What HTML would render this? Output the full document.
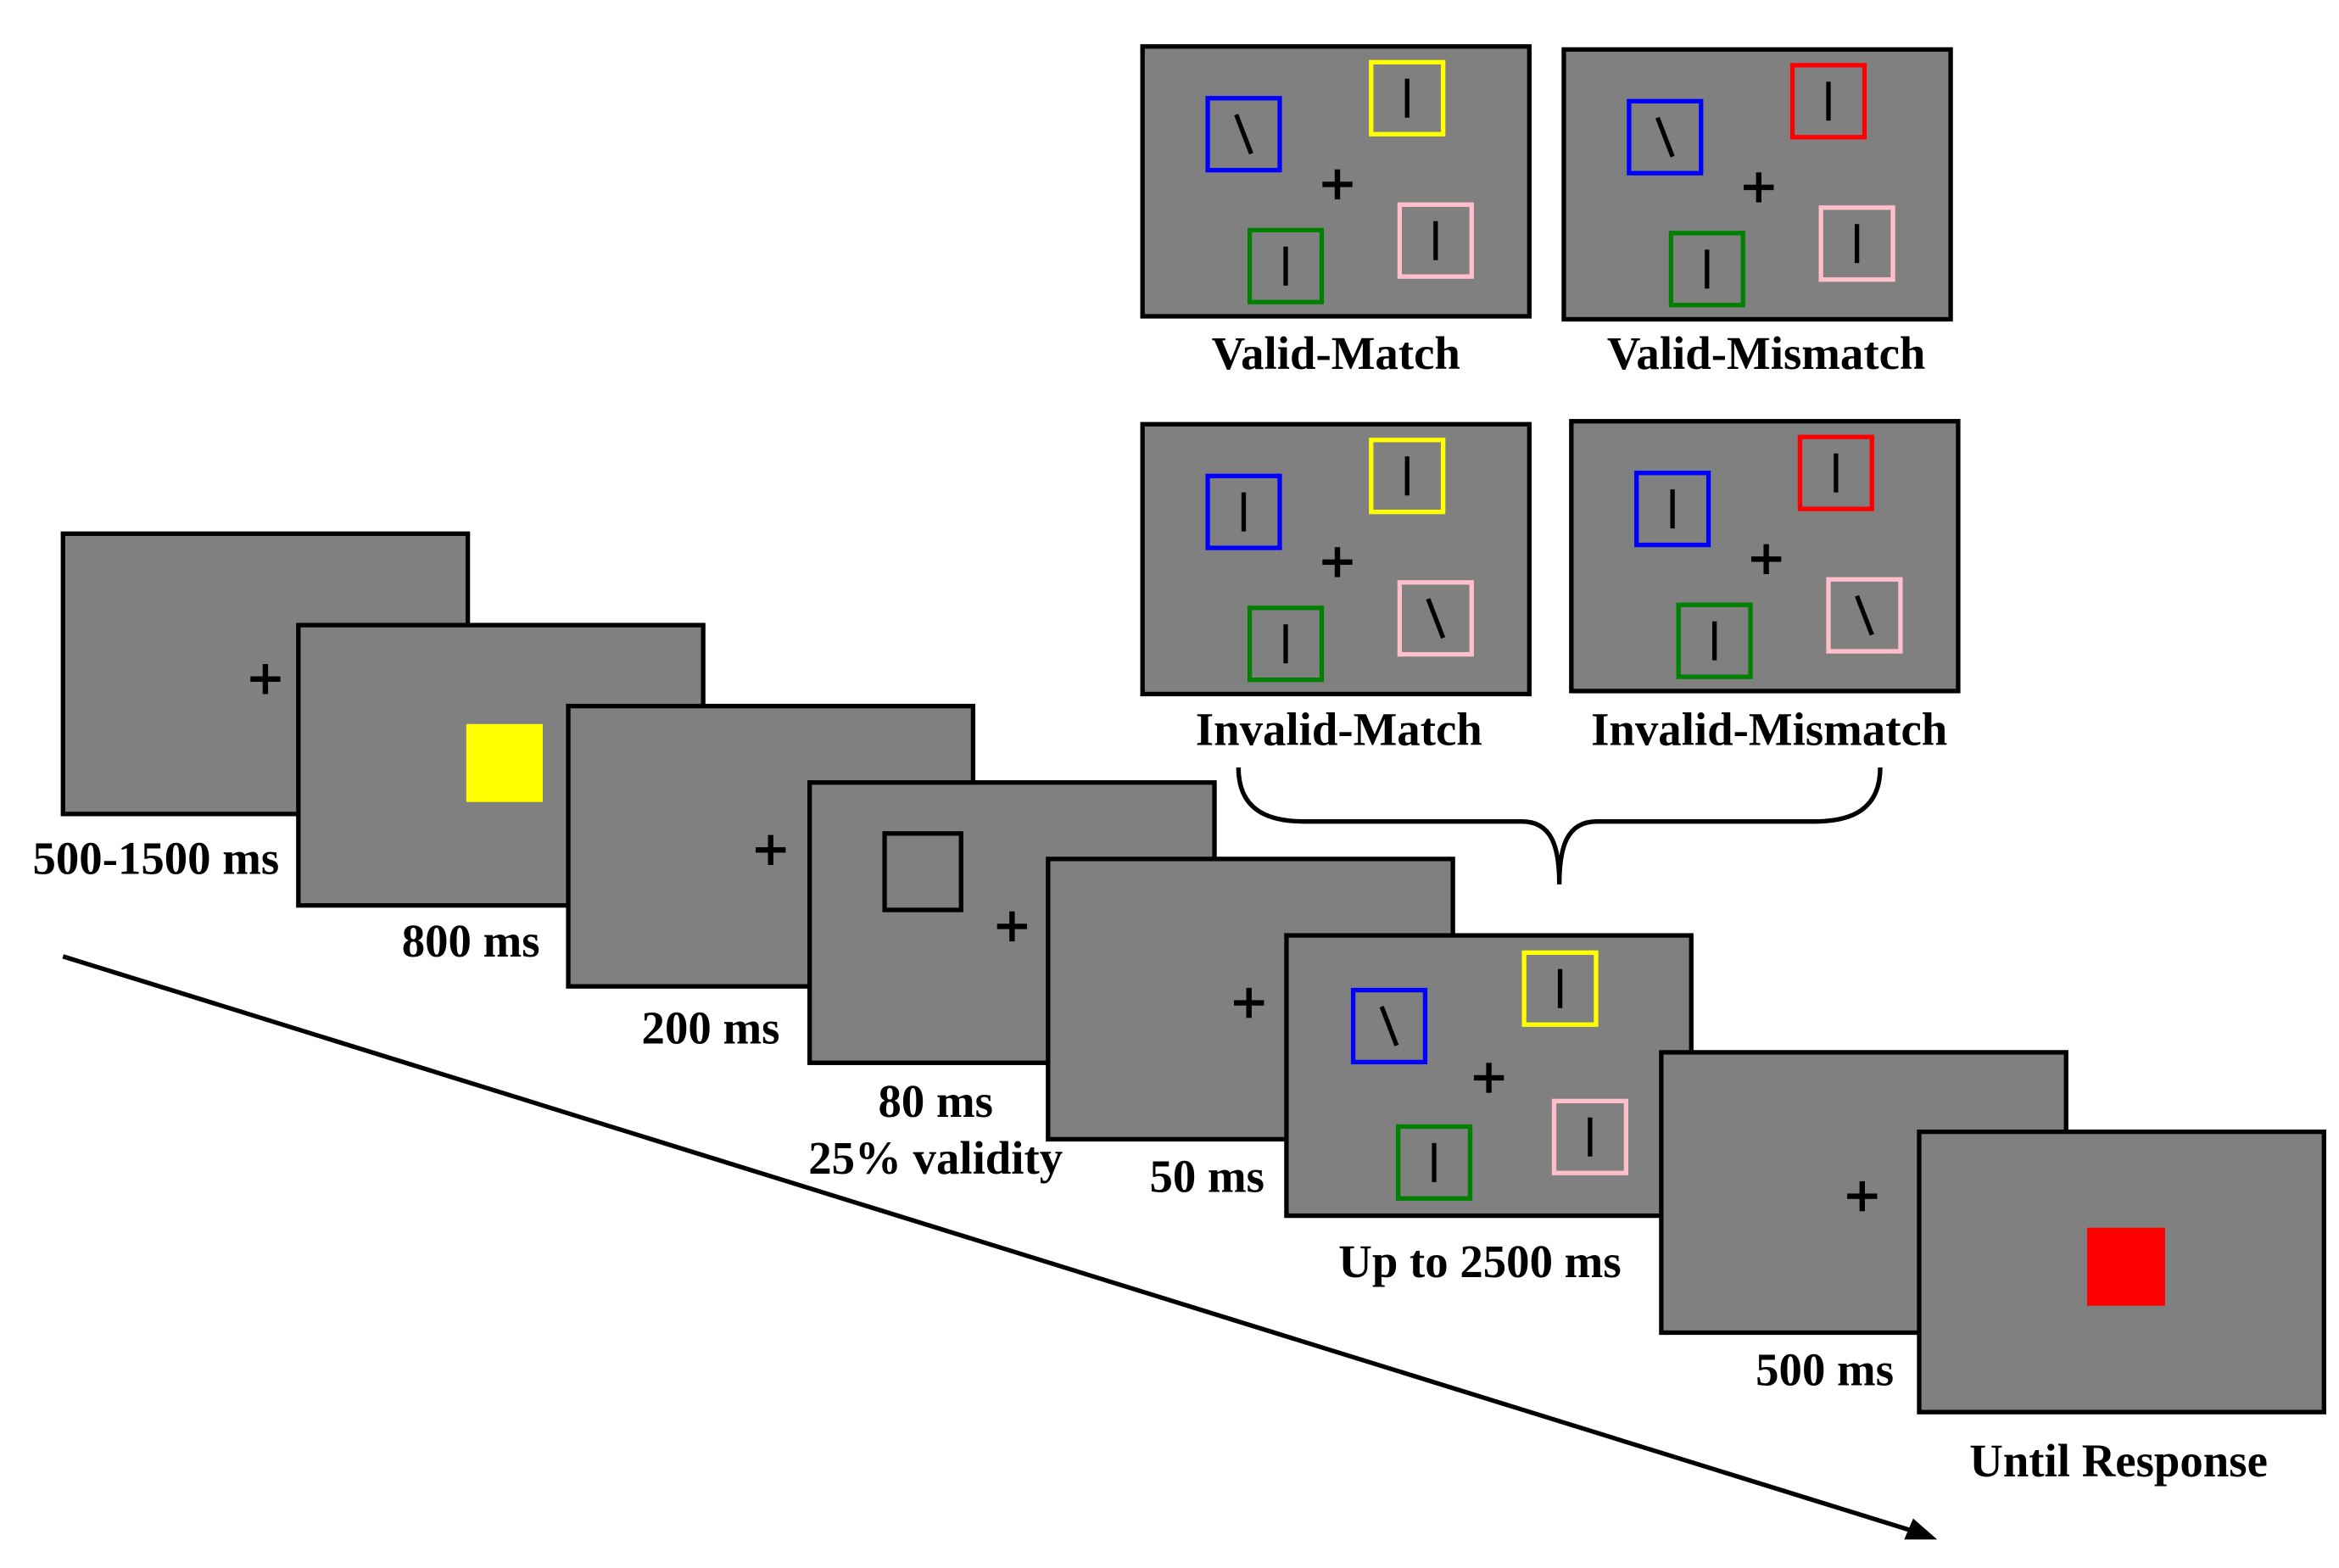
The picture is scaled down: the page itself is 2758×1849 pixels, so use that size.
<!DOCTYPE html>
<html><head><meta charset="utf-8"><style>
html,body{margin:0;padding:0;background:#fff;}
svg{display:block;}
text{font-family:"Liberation Serif",serif;font-weight:bold;font-size:31px;fill:#000;text-anchor:middle;}
</style></head><body>
<svg width="2758" height="1849" viewBox="0 0 1560 1046" preserveAspectRatio="none" xmlns="http://www.w3.org/2000/svg">
<defs>
<g id="plus"><rect x="-10" y="-1.8" width="20" height="3.6" fill="#000"/><rect x="-1.8" y="-10" width="3.6" height="20" fill="#000"/></g>
</defs>
<g id="seqGroup"></g>
<g id="topGroup"></g>
<path d="M826,512 C826,540 845,548 870,548 L1015,548 C1035,548 1040,565 1040,590 C1040,565 1045,548 1065,548 L1210,548 C1235,548 1254,540 1254,512" fill="none" stroke="#000" stroke-width="3"/>
<line x1="42" y1="638" x2="1278" y2="1022" stroke="#000" stroke-width="3"/>
<polygon points="1292,1027 1270,1027 1276,1013" fill="#000"/>
<text x="104" y="583">500-1500 ms</text>
<text x="314" y="638">800 ms</text>
<text x="474" y="696">200 ms</text>
<text x="624" y="745">80 ms</text>
<text x="624" y="783">25% validity</text>
<text x="805" y="795">50 ms</text>
<text x="987" y="852">Up to 2500 ms</text>
<text x="1217" y="924">500 ms</text>
<text x="1413" y="985">Until Response</text>
<text x="891" y="246">Valid-Match</text>
<text x="1178" y="246">Valid-Mismatch</text>
<text x="893" y="497">Invalid-Match</text>
<text x="1180" y="497">Invalid-Mismatch</text>
</svg>
<script>
(function(){
const NS='http://www.w3.org/2000/svg';
function mk(parent,tag,attrs){const e=document.createElementNS(NS,tag);for(const k in attrs)e.setAttribute(k,attrs[k]);parent.appendChild(e);return e;}
const seqG=document.getElementById('seqGroup'),topG=document.getElementById('topGroup');
function screen(parent,x,y,w,h,name){
  const r=mk(parent,'rect',{x:x,y:y,width:w,height:h,fill:'#808080',stroke:'#000','stroke-width':3});
  
  
}
function plus(parent,x,y){const u=mk(parent,'use',{href:'#plus',transform:'translate('+x+','+y+')'});
  
  }
function box(parent,x,y,color,tilt){
  const r=mk(parent,'rect',{x:x+1.5,y:y+1.5,width:48,height:48,fill:'none',stroke:color,'stroke-width':3});
  
  
  const cx=x+25.5,cy=y+25.5,dx=tilt?5:0;
  const l=mk(parent,'line',{x1:cx-dx,y1:cy-13,x2:cx+dx,y2:cy+13,stroke:'#000','stroke-width':3});
  
  
}
const W=270,H=187;
screen(seqG,42,356,W,H,'fixation-screen');plus(seqG,177,453);
screen(seqG,199,417,W,H,'memory-screen');
const ys=mk(seqG,'rect',{x:311,y:483,width:51,height:52,fill:'#ffff00'});


screen(seqG,379,471,W,H,'delay-screen');plus(seqG,514,567);
screen(seqG,540,522,W,H,'cue-screen');
const cs=mk(seqG,'rect',{x:590,y:556,width:51,height:51,fill:'none',stroke:'#000','stroke-width':3});


plus(seqG,675,618);
screen(seqG,699,573,W,H,'isi-screen');plus(seqG,833,669);
screen(seqG,858,624,W,H,'search-screen');plus(seqG,993,719);
box(seqG,901,659,'#0000ff',true);box(seqG,1015,634,'#ffff00',false);box(seqG,931,750,'#008000',false);box(seqG,1035,733,'#ffc0cb',false);
screen(seqG,1108,702,W,H,'post-search-screen');plus(seqG,1242,798);
screen(seqG,1280,755,W,H,'response-screen');
const rs=mk(seqG,'rect',{x:1392,y:819,width:52,height:52,fill:'#ff0000'});


function cond(ox,oy,name,c2,blueTilt,pinkTilt){
  const g=mk(topG,'g',{transform:'translate('+ox+','+oy+')'});
  
  
  screen(g,762,31,258,180,name+'-screen');
  plus(g,892,123);
  box(g,804,64,'#0000ff',blueTilt);box(g,913,40,c2,false);box(g,832,152,'#008000',false);box(g,932,135,'#ffc0cb',pinkTilt);
}
cond(0,0,'valid-match','#ffff00',true,false);
cond(281,2,'valid-mismatch','#ff0000',true,false);
cond(0,252,'invalid-match','#ffff00',false,true);
cond(286,250,'invalid-mismatch','#ff0000',false,true);
})();
</script>
</body></html>
